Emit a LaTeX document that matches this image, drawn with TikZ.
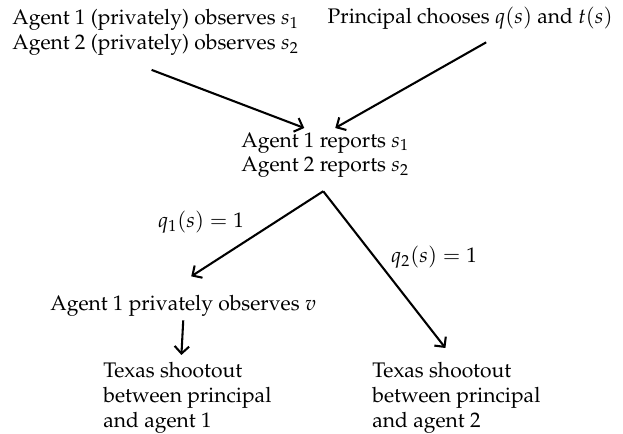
\documentclass[tikz,border=0pt]{standalone}
\usepackage[T1]{fontenc}
\usepackage{mathpazo}
\usetikzlibrary{arrows.meta}
\begin{document}
\begin{tikzpicture}[x=0.482pt, y=-0.482pt,
  txt/.style={inner sep=0pt, align=left, font=\fontsize{10.15}{12}\selectfont},
  conn/.style={-{Straight Barb[length=3.5pt,width=7pt]}, line width=1pt}]
\useasboundingbox (0,0) rectangle (623,434);
\node[txt, anchor=north west] (obs) at (12,9) {Agent 1 (privately) observes $s_1$\\Agent 2 (privately) observes $s_2$};
\node[txt, anchor=base east] (pc) at (613,24) {Principal chooses $q(s)$ and $t(s)$};
\node[txt, anchor=north west] (rep) at (241,132) {Agent 1 reports $s_1$\\Agent 2 reports $s_2$};
\node[txt, anchor=base west] (a1v) at (50,311) {Agent 1 privately observes $v$};
\node[txt, anchor=north west] (tx1) at (103,362) {Texas shootout\\between principal\\and agent 1};
\node[txt, anchor=north west] (tx2) at (372,362) {Texas shootout\\between principal\\and agent 2};
\coordinate (split) at ([shift={(-2,13)}]rep.south);
\draw[conn] ([shift={(-4,14)}]obs.south) -- ([shift={(-21,-4)}]rep.north);
\draw[conn] ([shift={(16,12)}]pc.south) -- ([shift={(10,-4)}]rep.north);
\draw[conn] (split) -- ([shift={(8,-19)}]a1v.north);
\draw[conn] (split) -- ([shift={(-11,-14)}]tx2.north);
\draw[conn] ([shift={(0,3)}]a1v.south) -- ([shift={(-6,-7)}]tx1.north);
\node[txt] (lq1) at (201,222) {$q_1(s)=1$};
\node[txt] (lq2) at (434,257) {$q_2(s)=1$};
\end{tikzpicture}
\end{document}
